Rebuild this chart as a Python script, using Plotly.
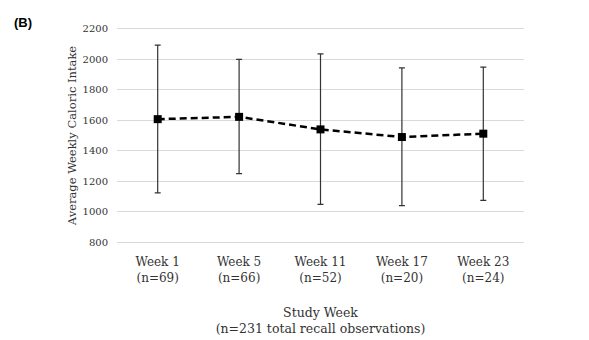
import plotly.graph_objects as go

categories = ["Week 1<br>(n=69)", "Week 5<br>(n=66)", "Week 11<br>(n=52)", "Week 17<br>(n=20)", "Week 23<br>(n=24)"]
means = [1607, 1622, 1540, 1490, 1512]
err_plus = [484, 376, 494, 453, 436]
err_minus = [482, 371, 491, 449, 437]
y_ticks = [800, 1000, 1200, 1400, 1600, 1800, 2000, 2200]

serif = "'DejaVu Serif', serif"

fig = go.Figure()
fig.add_trace(go.Scatter(
    x=categories, y=means, mode="lines+markers",
    line=dict(color="black", width=2.5, dash="7px,4px"),
    marker=dict(symbol="square", size=8, color="black"),
    error_y=dict(type="data", symmetric=False, array=err_plus, arrayminus=err_minus,
                 color="#333333", thickness=1.2, width=3),
    showlegend=False,
))

fig.update_layout(
    width=589, height=340,
    margin=dict(l=117, r=65, t=26.5, b=95.5),
    paper_bgcolor="white", plot_bgcolor="white",
    font=dict(family=serif, size=11, color="#333333"),
    xaxis=dict(
        type="category", range=[-0.5, 4.5], showgrid=False, showline=False, zeroline=False,
        automargin=False,
        ticks="", tickfont=dict(size=12, color="#333333"), ticklabelstandoff=9,
        title=dict(text="Study Week<br>(n=231 total recall observations)",
                   font=dict(size=12.5, color="#333333"), standoff=24),
    ),
    yaxis=dict(
        range=[790, 2210], tickvals=y_ticks, showgrid=True, gridcolor="#d9d9d9",
        gridwidth=1, zeroline=False, showline=False, ticks="", automargin=False,
        tickfont=dict(size=10, color="#333333"), ticklabelstandoff=8,
        title=dict(text="Average Weekly Caloric Intake", font=dict(size=11.5, color="#333333"),
                   standoff=3),
    ),
    annotations=[dict(text="<b>(B)</b>", xref="paper", yref="paper", x=-0.258, y=0.975,
                      xanchor="left", yanchor="bottom", showarrow=False,
                      font=dict(family="Arial, 'Liberation Sans', sans-serif", size=13, color="black"))],
)

fig.write_html("out.html")
